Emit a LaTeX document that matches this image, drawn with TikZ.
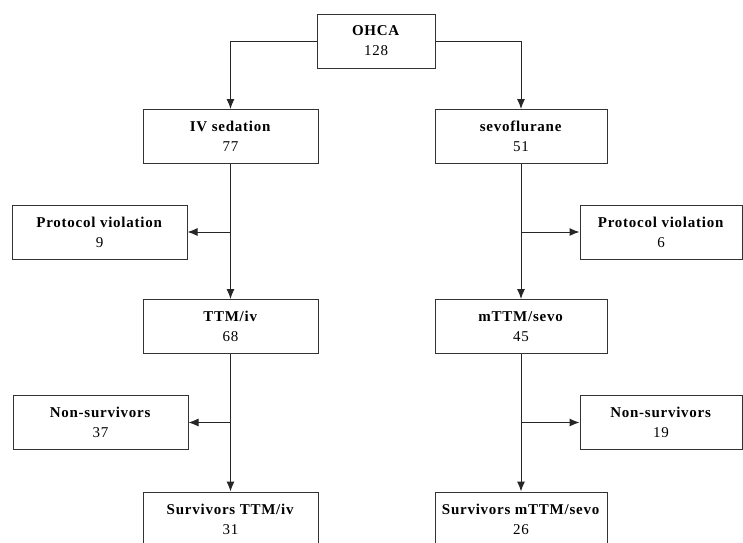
\documentclass[tikz,border=0pt]{standalone}
\usepackage{fontspec}
\setmainfont{Liberation Serif}
\usetikzlibrary{arrows.meta}

\begin{document}
\begin{tikzpicture}[x=1pt,y=-1pt,
  box/.style={draw=black!80, line width=1pt, rectangle, align=center,
    inner sep=0pt, minimum height=54,
    font=\fontsize{15}{20}\selectfont\addfontfeatures{LetterSpace=5}},
  wide/.style={box, minimum width=175},
  arr/.style={draw=black!85, line width=1pt, -{Latex[length=10pt,width=8pt]}}]
\useasboundingbox (0,0) rectangle (743,542);

% top
\node[box, minimum width=118] (ohca) at (376,41) {\textbf{OHCA}\\128};

% groups
\node[wide] (iv) at (230.5,136.5) {\textbf{IV sedation}\\77};
\node[box, minimum width=172] (sevo) at (521,136.5) {\textbf{sevoflurane}\\51};

% protocol violations
\node[wide] (pvL) at (99.5,232) {\textbf{Protocol violation}\\9};
\node[box, minimum width=162] (pvR) at (661,232) {\textbf{Protocol violation}\\6};

% treated
\node[wide] (ttm) at (230.5,326.5) {\textbf{TTM/iv}\\68};
\node[box, minimum width=172] (mttm) at (521,326.5) {\textbf{mTTM/sevo}\\45};

% non-survivors
\node[wide] (nsL) at (100.5,422.5) {\textbf{Non-survivors}\\37};
\node[box, minimum width=162] (nsR) at (661,422.5) {\textbf{Non-survivors}\\19};

% survivors
\node[wide] (svL) at (230.5,519) {\textbf{Survivors TTM/iv}\\31};
\node[box, minimum width=172] (svR) at (521,519) {\textbf{Survivors mTTM/sevo}\\26};

% split
\draw[arr] (ohca.west) -| (iv.north);
\draw[arr] (ohca.east) -| (sevo.north);

% main flow
\draw[arr] (iv) -- (ttm);
\draw[arr] (sevo) -- (mttm);
\draw[arr] (ttm) -- (svL);
\draw[arr] (mttm) -- (svR);

% side branches
\coordinate (jpvL) at (iv.south |- pvL);
\coordinate (jpvR) at (sevo.south |- pvR);
\coordinate (jnsL) at (ttm.south |- nsL);
\coordinate (jnsR) at (mttm.south |- nsR);
\draw[arr] (jpvL) -- (pvL);
\draw[arr] (jpvR) -- (pvR);
\draw[arr] (jnsL) -- (nsL);
\draw[arr] (jnsR) -- (nsR);
\end{tikzpicture}
\end{document}
